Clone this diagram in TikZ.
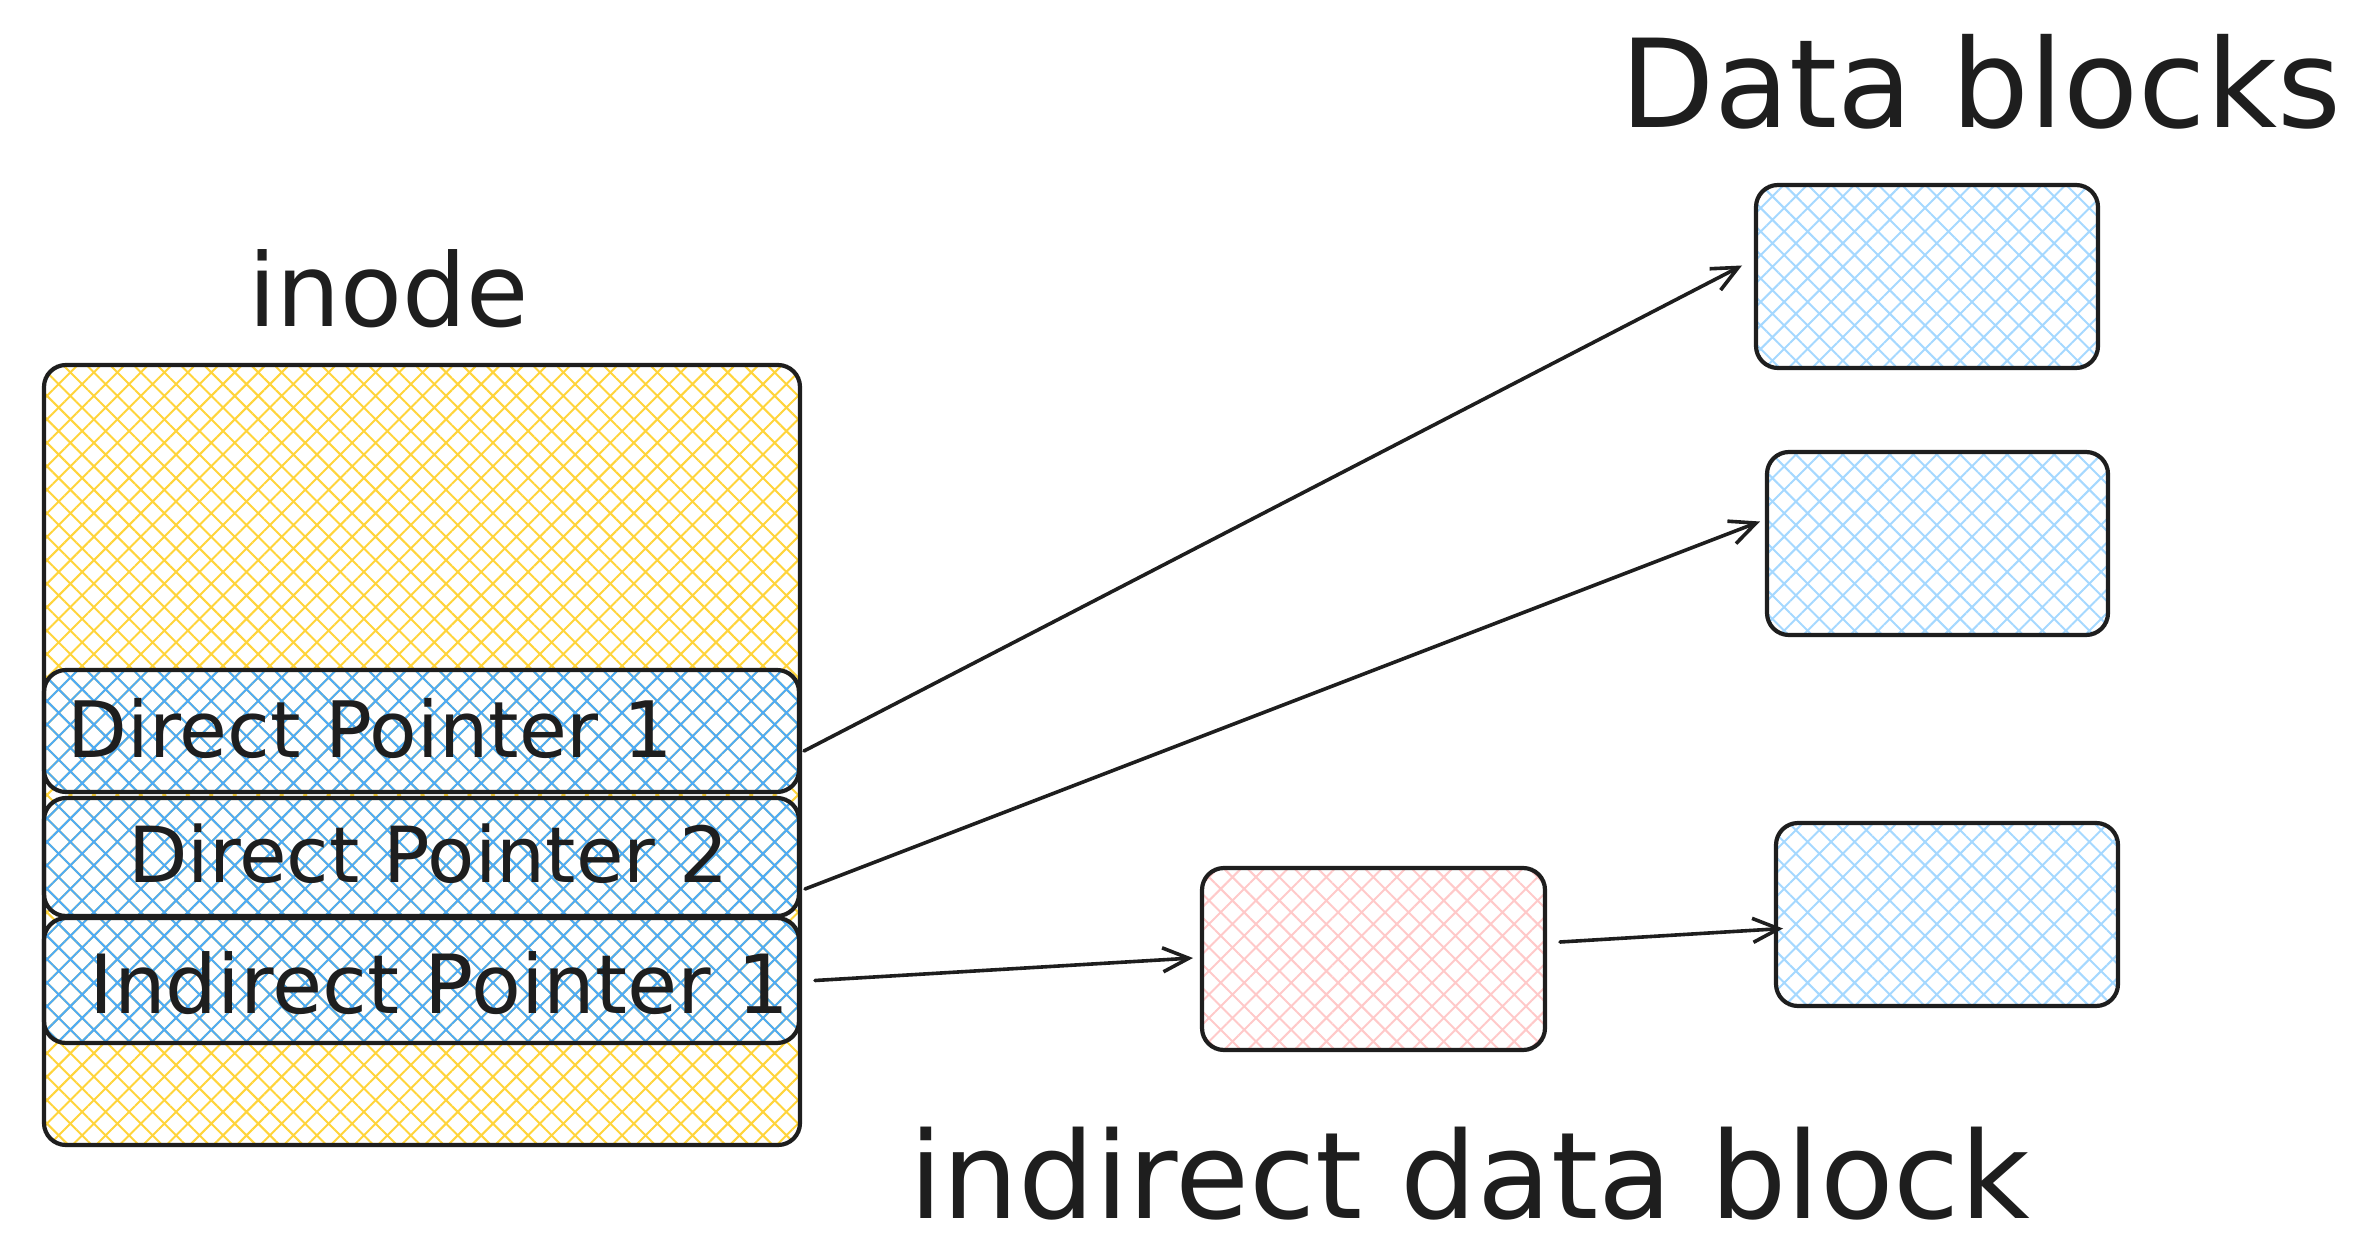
\documentclass[tikz,border=0pt]{standalone}
\usepackage{fontspec}
\setmainfont{DejaVu Sans}
\usetikzlibrary{patterns.meta,arrows.meta}
\definecolor{ink}{HTML}{1E1E1E}
\definecolor{yel}{HTML}{FFD43B}
\definecolor{blu}{HTML}{4DABF7}
\definecolor{lblu}{HTML}{A5D8FF}
\definecolor{pnk}{HTML}{FFC9C9}
\newcommand{\fitto}[2]{\resizebox{#1}{!}{#2}}
\tikzset{
  box/.style={draw=ink, line width=2.1pt, rounded corners=11pt, inner sep=0pt, outer sep=0pt, anchor=north west},
  hatchyel/.style={pattern={Hatch[angle=45,distance=8.3pt,line width=1pt]}, pattern color=yel},
  hatchblu/.style={pattern={Hatch[angle=45,distance=8.3pt,line width=1pt]}, pattern color=blu},
  hatchlblu/.style={pattern={Hatch[angle=45,distance=8.3pt,line width=1pt]}, pattern color=lblu},
  hatchpnk/.style={pattern={Hatch[angle=45,distance=8.3pt,line width=1pt]}, pattern color=pnk},
  lbl/.style={inner sep=0pt, outer sep=0pt, anchor=base west, text=ink},
  arr/.style={draw=ink, line width=1.8pt, line cap=round, line join=round,
    -{Straight Barb[length=13pt,width=12pt,line width=1.8pt]}}
}
\begin{document}
\begin{tikzpicture}[x=0.5pt,y=-0.5pt]
\useasboundingbox (0,0) rectangle (2356,1241);
% inode
\node[box, hatchyel, minimum width=378pt, minimum height=390pt] (inode) at (44,365) {};
\node[box, hatchblu, minimum width=377.5pt, minimum height=61pt] (dp1) at (44,670) {};
\node[box, hatchblu, minimum width=377.5pt, minimum height=59pt] (dp2) at (44,798) {};
\node[box, hatchblu, minimum width=377.5pt, minimum height=62.5pt] (ip1) at (44,918) {};
% data blocks
\node[box, hatchlblu, minimum width=171pt, minimum height=91.5pt] (block1) at (1756,185) {};
\node[box, hatchlblu, minimum width=170.5pt, minimum height=91.5pt] (block2) at (1767,452) {};
\node[box, hatchlblu, minimum width=171pt, minimum height=91.5pt] (block3) at (1776,823) {};
\node[box, hatchpnk, minimum width=171.5pt, minimum height=91pt] (pink) at (1202,868) {};
% labels
\node[lbl] (inodelbl) at (248,326) {\fitto{140.5pt}{inode}};
\node[lbl] (datalbl) at (1620,128) {\fitto{360.5pt}{Data blocks}};
\node[lbl] (indlbl) at (909,1218) {\fitto{560pt}{indirect data block}};
\node[lbl] (dp1lbl) at (68,757) {\fitto{302.5pt}{Direct Pointer 1}};
\node[lbl] (dp2lbl) at (128,882) {\fitto{300.5pt}{Direct Pointer 2}};
\node[lbl] (ip1lbl) at (90,1013) {\fitto{349.5pt}{Indirect Pointer 1}};
% arrows
\draw[arr] ([shift={(5,20)}]dp1.east) -- ([shift={(-14,-11)}]block1.west);
\draw[arr] ([shift={(6,32)}]dp2.east) -- ([shift={(-7,-22)}]block2.west);
\draw[arr] ([shift={(16,0)}]ip1.east) -- ([shift={(-9,-1)}]pink.west);
\draw[arr] ([shift={(15,-17)}]pink.east) -- ([shift={(7,14)}]block3.west);
\end{tikzpicture}
\end{document}
